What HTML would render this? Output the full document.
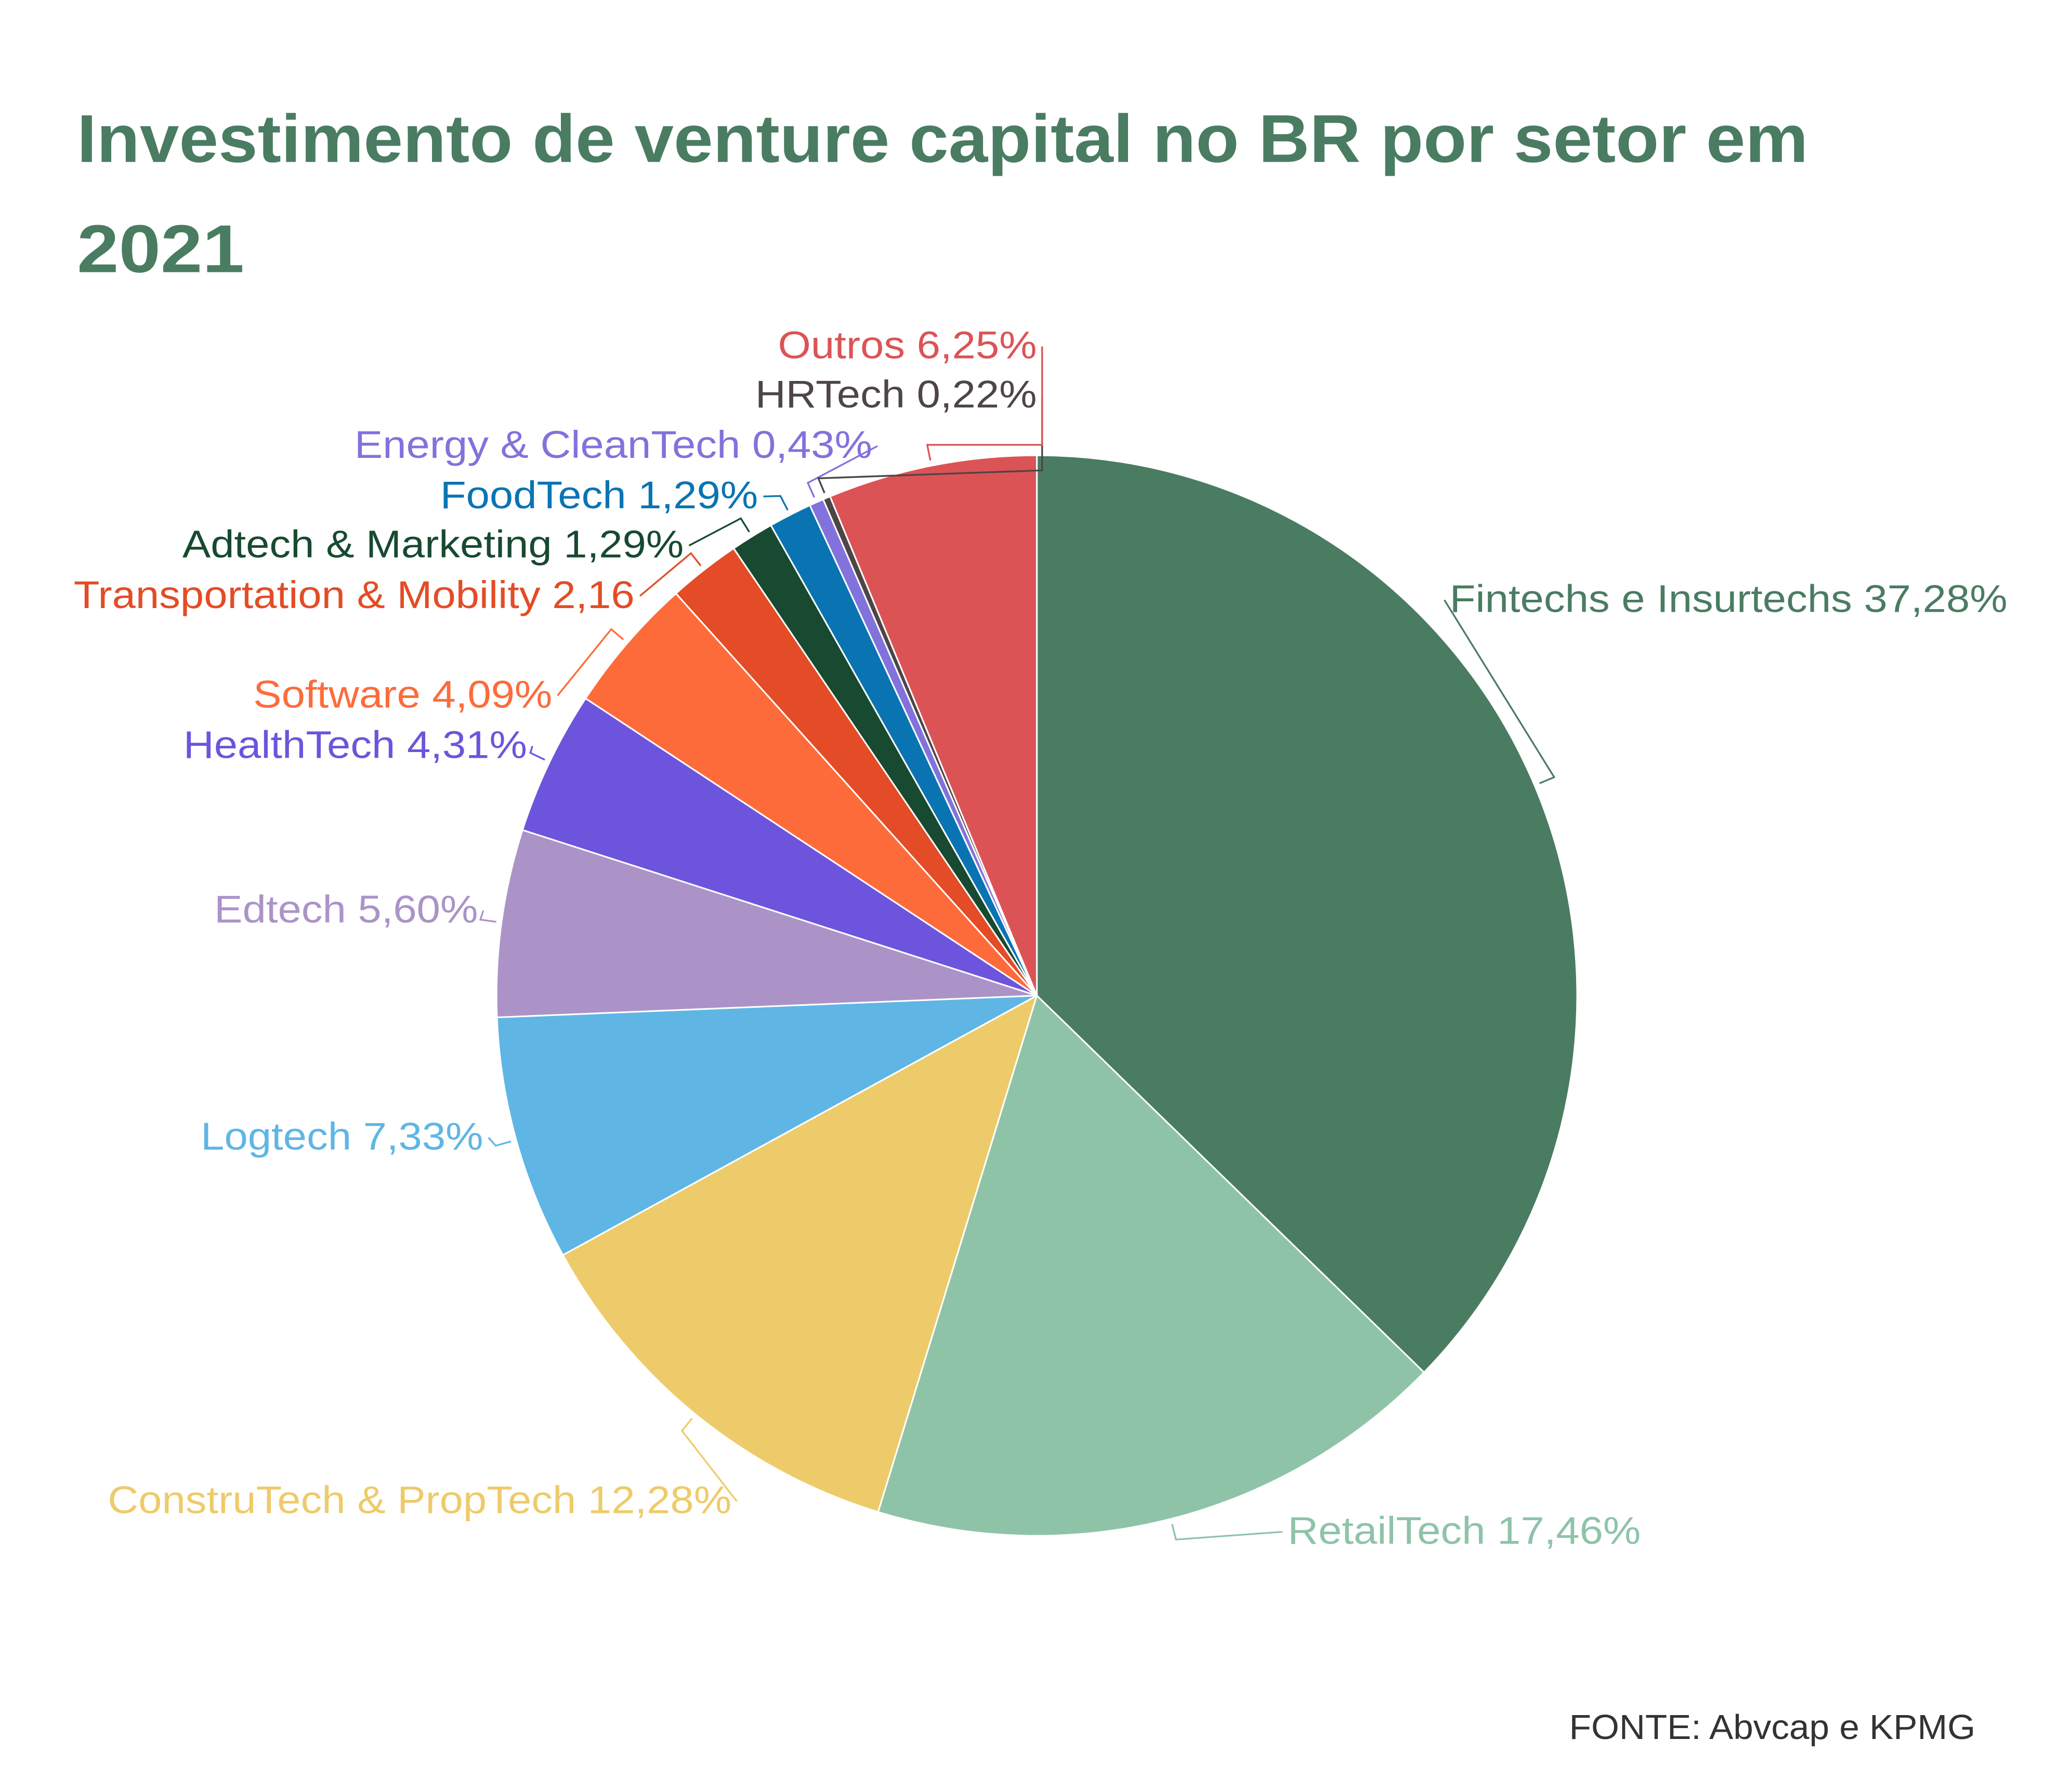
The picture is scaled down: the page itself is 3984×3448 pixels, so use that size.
<!DOCTYPE html>
<html><head><meta charset="utf-8"><style>
html,body{margin:0;padding:0;background:#fff;}
svg{display:block;}
text{font-family:"Liberation Sans",sans-serif;}
</style></head><body>
<svg id="chart" width="3984" height="3448" viewBox="0 0 1560 1350" preserveAspectRatio="none" xmlns="http://www.w3.org/2000/svg">
<rect width="1560" height="1350" fill="#fff"/>
<text x="58" y="122" font-size="51" font-weight="bold" fill="#4a7c62" textLength="1304" lengthAdjust="spacingAndGlyphs">Investimento de venture capital no BR por setor em</text>
<text x="58" y="205" font-size="51" font-weight="bold" fill="#4a7c62" textLength="126" lengthAdjust="spacingAndGlyphs">2021</text>
<g id="slices"></g>
<g id="leaders"></g>
<g id="labels"></g>
<text x="1488" y="1310" text-anchor="end" font-size="26" fill="#333" textLength="306" lengthAdjust="spacingAndGlyphs">FONTE: Abvcap e KPMG</text>
</svg>
<script>
const categories = ["Fintechs e Insurtechs","RetailTech","ConstruTech & PropTech","Logtech","Edtech","HealthTech","Software","Transportation & Mobility","Adtech & Marketing","FoodTech","Energy & CleanTech","HRTech","Outros"];
const values = [37.28,17.46,12.28,7.33,5.60,4.31,4.09,2.16,1.29,1.29,0.43,0.22,6.25];
const valueLabels = ["37,28%","17,46%","12,28%","7,33%","5,60%","4,31%","4,09%","2,16","1,29%","1,29%","0,43%","0,22%","6,25%"];
const colors = ["#4a7c62","#8fc3a8","#eecb6a","#5fb6e4","#ab93c8","#6c55dc","#fe6b3a","#e34c26","#174a30","#0a74b3","#8272dc","#4d4546","#dc5356"];
// label layout (anchor x, baseline y, anchor side)
const labelX = [1092,970,551,364,360,397,416,478,515,571,657,781,781];
const labelY = [461,1163,1140,866,695,571,533,458,420,383,345,307,270];
const labelSide = ["start","start","end","end","end","end","end","end","end","end","end","end","end"];

const cx = 781, cy = 750, R = 407;
const NS = "http://www.w3.org/2000/svg";
const total = values.reduce((a,b)=>a+b,0);
function angleOf(v){ return v/total*2*Math.PI; }
function pt(a,r){ return [cx + r*Math.sin(a), cy - r*Math.cos(a)]; }
const gS = document.getElementById("slices"), gL = document.getElementById("leaders"), gT = document.getElementById("labels");
let start = 0;
values.forEach((v,i)=>{
  const end = start + angleOf(v);
  const p0 = pt(start,R), p1 = pt(end,R);
  const large = (end-start) > Math.PI ? 1 : 0;
  const path = document.createElementNS(NS,"path");
  path.setAttribute("d",`M${cx},${cy} L${p0[0]},${p0[1]} A${R},${R} 0 ${large} 1 ${p1[0]},${p1[1]} Z`);
  path.setAttribute("fill",colors[i]);
  path.setAttribute("stroke","#fff");
  path.setAttribute("stroke-width","1.2");
  
  
  gS.appendChild(path);
  const mid = (start+end)/2;
  const a = pt(mid,R+4), b = pt(mid,R+16);
  const lx = labelSide[i]==="start" ? labelX[i]-4 : labelX[i]+4;
  const ly = labelY[i]-9;
  let pts = `${a[0]},${a[1]} ${b[0]},${b[1]} ${lx},${ly}`;
  if (i >= 11) pts = `${a[0]},${a[1]} ${b[0]},${b[1]} ${lx},${b[1]-(12-i)*6} ${lx},${ly}`;
  const line = document.createElementNS(NS,"polyline");
  line.setAttribute("points",pts);
  line.setAttribute("fill","none");
  line.setAttribute("stroke",colors[i]);
  line.setAttribute("stroke-width","1.3");
  
  
  gL.appendChild(line);
  const t = document.createElementNS(NS,"text");
  t.setAttribute("x",labelX[i]);
  t.setAttribute("y",labelY[i]);
  t.setAttribute("text-anchor",labelSide[i]);
  t.setAttribute("font-size","29");
  t.setAttribute("fill",colors[i]);
  t.textContent = categories[i] + " " + valueLabels[i];
  
  
  gT.appendChild(t);
  const w = t.getComputedTextLength();
  t.setAttribute("textLength", (w*1.1).toFixed(1));
  t.setAttribute("lengthAdjust","spacingAndGlyphs");
  start = end;
});
</script>
</body></html>
